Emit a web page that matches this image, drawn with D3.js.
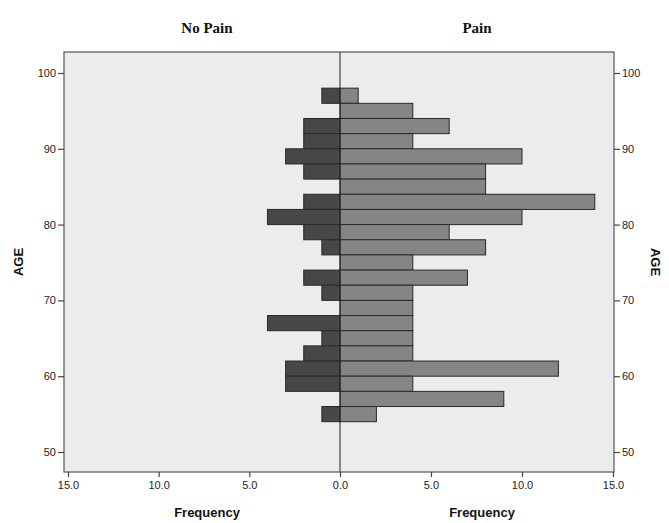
<!DOCTYPE html>
<html><head><meta charset="utf-8">
<script src="https://cdn.jsdelivr.net/npm/d3@7"></script>
<style>body{margin:0;background:#fff}svg{display:block}</style>
</head><body>
<script>
// Age bins (lower bound, 2-year width), top to bottom
const binStarts = [96,94,92,90,88,86,84,82,80,78,76,74,72,70,68,66,64,62,60,58,56,54];
const binWidth = 2;
const painCounts   = [1,4,6,4,10,8,8,14,10,6,8,4,7,4,4,4,4,4,12,4,9,2];
const noPainCounts = [1,0,2,2,3,2,0,2,4,2,1,0,2,1,0,4,1,2,3,3,0,1];
const freqTicks = [0,5,10,15];
const ageTicks = [50,60,70,80,90,100];
const panelTitles = ["No Pain","Pain"];

const W = 669, H = 523;
const svg = d3.select("body").append("svg").attr("width",W).attr("height",H);

const plotL = 64, plotR = 614, plotT = 52, plotB = 472;
const y = d3.scaleLinear().domain([50,100]).range([452,73]);
const xL = d3.scaleLinear().domain([0,15]).range([340,68]);
const xR = d3.scaleLinear().domain([0,15]).range([340,613]);

svg.append("rect").attr("x",plotL).attr("y",plotT).attr("width",plotR-plotL).attr("height",plotB-plotT)
  .attr("fill","#ececec");

const bins = binStarts.map((s,i)=>({s, pain:painCounts[i], nop:noPainCounts[i]}));

svg.append("g").selectAll("rect").data(bins.filter(d=>d.nop>0)).join("rect")
  .attr("x",d=>xL(d.nop)).attr("width",d=>xL(0)-xL(d.nop))
  .attr("y",d=>y(d.s+binWidth)).attr("height",d=>y(d.s)-y(d.s+binWidth))
  .attr("fill","#474747").attr("stroke","#2a2a2a").attr("stroke-width",1);

svg.append("g").selectAll("rect").data(bins.filter(d=>d.pain>0)).join("rect")
  .attr("x",xR(0)).attr("width",d=>xR(d.pain)-xR(0))
  .attr("y",d=>y(d.s+binWidth)).attr("height",d=>y(d.s)-y(d.s+binWidth))
  .attr("fill","#858585").attr("stroke","#2a2a2a").attr("stroke-width",1);

// center line
svg.append("line").attr("x1",xR(0)).attr("x2",xR(0)).attr("y1",plotT).attr("y2",plotB)
  .attr("stroke","#222").attr("stroke-width",1);

// frame
svg.append("rect").attr("x",plotL).attr("y",plotT).attr("width",plotR-plotL).attr("height",plotB-plotT)
  .attr("fill","none").attr("stroke","#555").attr("stroke-width",1.2);

const font = "'Liberation Sans', Arial, sans-serif";
const fmt = d3.format(".1f");

function styleAxis(g){
  g.attr("color","#222");
  g.select(".domain").remove();
  g.selectAll(".tick line").attr("stroke","#444").attr("stroke-width",1.2);
  g.selectAll(".tick text").attr("font-family",font).attr("font-size",11).attr("fill","#222");
}

svg.append("g").attr("transform",`translate(0,${plotB})`)
  .call(d3.axisBottom(xL).tickValues(freqTicks.slice(1)).tickFormat(fmt).tickSize(5).tickPadding(4)).call(styleAxis);
svg.append("g").attr("transform",`translate(0,${plotB})`)
  .call(d3.axisBottom(xR).tickValues(freqTicks).tickFormat(fmt).tickSize(5).tickPadding(4)).call(styleAxis);

svg.append("g").attr("transform",`translate(${plotL},0)`)
  .call(d3.axisLeft(y).tickValues(ageTicks).tickSize(6).tickPadding(2)).call(styleAxis);
svg.append("g").attr("transform",`translate(${plotR},0)`)
  .call(d3.axisRight(y).tickValues(ageTicks).tickSize(6).tickPadding(2)).call(styleAxis);

// titles
svg.selectAll("text.ptitle").data(panelTitles).join("text").attr("class","ptitle")
  .attr("x",(d,i)=>i===0?207:477).attr("y",33).attr("text-anchor","middle")
  .attr("font-family","'Liberation Serif','Times New Roman',serif").attr("font-weight","bold")
  .attr("font-size",15).attr("fill","#111").text(d=>d);

svg.selectAll("text.xlab").data([207,482]).join("text").attr("class","xlab")
  .attr("x",d=>d).attr("y",517).attr("text-anchor","middle")
  .attr("font-family",font).attr("font-weight","bold").attr("font-size",13).attr("fill","#111")
  .text("Frequency");

svg.append("text").attr("transform",`translate(23,262) rotate(-90)`).attr("text-anchor","middle")
  .attr("font-family",font).attr("font-weight","bold").attr("font-size",13).attr("fill","#111").text("AGE");
svg.append("text").attr("transform",`translate(651,262) rotate(90)`).attr("text-anchor","middle")
  .attr("font-family",font).attr("font-weight","bold").attr("font-size",13).attr("fill","#111").text("AGE");
</script>
</body></html>
